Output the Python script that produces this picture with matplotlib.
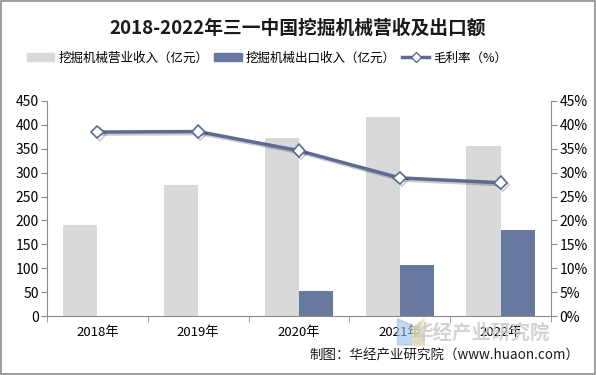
import matplotlib
matplotlib.use("Agg")
import matplotlib.pyplot as plt
import matplotlib.patheffects as pe
from matplotlib.lines import Line2D
from matplotlib.patches import Patch, Rectangle, Polygon
import numpy as np

plt.rcParams['font.family'] = ['Noto Sans CJK SC', 'DejaVu Sans']

categories = ['2018年', '2019年', '2020年', '2021年', '2022年']
revenue = [190, 274, 372, 417, 356]
export = [None, None, 52, 107, 180]
margin = [38.5, 38.6, 34.6, 28.9, 27.9]

fig = plt.figure(figsize=(5.96, 3.75), dpi=100)
fig.patches.append(Rectangle((0.002, 0.003), 0.996, 0.994, transform=fig.transFigure,
                             fill=False, edgecolor='#8C8C8C', linewidth=1.2))

ax = fig.add_axes([0.0789, 0.1573, 0.8456, 0.5734])
x = np.arange(len(categories))
w = 0.34
ax.bar(x - w/2, revenue, width=w, color='#D9D9D9', zorder=2)
ex_vals = [v if v is not None else 0 for v in export]
ax.bar(x + w/2, ex_vals, width=w, color='#67799E', zorder=2)

ax.set_xlim(-0.5, 4.5)
ax.set_ylim(0, 450)
ax.set_yticks(range(0, 451, 50))
ax.set_xticks(x)
ax.set_xticklabels(categories, fontsize=9.5)
ax.set_xticks(np.arange(-0.5, 5, 1), minor=True)
ax.tick_params(axis='x', which='major', length=0, pad=7)
ax.tick_params(axis='x', which='minor', length=4, color='#8C8C8C', direction='out')
ax.tick_params(axis='y', length=4, color='#8C8C8C', labelsize=10, pad=2)
for s in ['top', 'right']:
    ax.spines[s].set_visible(False)
for s in ['left', 'bottom']:
    ax.spines[s].set_color('#8C8C8C')

ax2 = ax.twinx()
ax2.set_ylim(0, 45)
ax2.set_yticks(range(0, 46, 5))
ax2.set_yticklabels([f'{v}%' for v in range(0, 46, 5)])
ax2.tick_params(axis='y', length=4, color='#8C8C8C', labelsize=10, pad=2)
for s in ['top', 'left', 'bottom']:
    ax2.spines[s].set_visible(False)
ax2.spines['right'].set_color('#8C8C8C')
ax2.plot(x, margin, color='#5B6B93', linewidth=2.5, marker='D', markersize=6.5,
         markerfacecolor='white', markeredgecolor='#5B6B93', markeredgewidth=1.2,
         path_effects=[pe.SimpleLineShadow(offset=(1.5, -1.5), alpha=0.2), pe.Normal()],
         zorder=5)

fig.text(0.5, 0.926, '2018-2022年三一中国挖掘机械营收及出口额', ha='center', va='center',
         fontsize=13.5, fontweight='bold', color='#1A1A1A')

handles = [Patch(color='#D9D9D9'), Patch(color='#67799E'),
           Line2D([], [], color='#5B6B93', linewidth=2.5, marker='D', markersize=5,
                  markerfacecolor='white', markeredgecolor='#5B6B93')]
labels = ['挖掘机械营业收入（亿元）', '挖掘机械出口收入（亿元）', '毛利率（%）']
fig.legend(handles, labels, loc='center left', bbox_to_anchor=(0.045, 0.845), ncol=3,
           frameon=False, fontsize=9, handlelength=2.2, handleheight=0.6,
           columnspacing=0.5, handletextpad=0.3, borderaxespad=0, borderpad=0)

# watermark logo and text
fig.patches.append(Polygon([[0.667, 0.150], [0.712, 0.118], [0.712, 0.08], [0.667, 0.08]],
                           closed=True, transform=fig.transFigure, color='#9CC0F0', alpha=0.6))
fig.patches.append(Polygon([[0.693, 0.128], [0.712, 0.150], [0.712, 0.08], [0.693, 0.08]],
                           closed=True, transform=fig.transFigure, color='#F5E39A', alpha=0.6))
fig.text(0.808, 0.112, '华经产业研究院', ha='center', va='center', fontsize=14,
         color='#C8C8C8', fontweight='bold', alpha=0.8)
fig.text(0.972, 0.053, '制图：华经产业研究院（www.huaon.com）', ha='right', va='center',
         fontsize=9.7, color='#1A1A1A')

fig.savefig('out.png', dpi=100)
